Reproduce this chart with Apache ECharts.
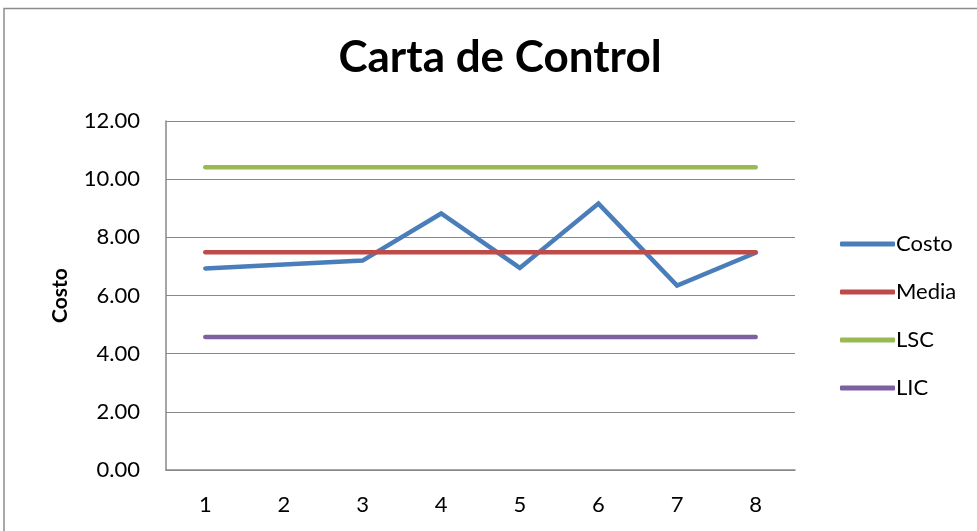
<!DOCTYPE html>
<html>
<head>
<meta charset="utf-8">
<script src="https://cdn.jsdelivr.net/npm/echarts@6/dist/echarts.min.js"></script>
<style>html,body{margin:0;padding:0;background:#fff;}#c{width:977px;height:531px;}</style>
</head>
<body>
<div id="c"></div>
<script>
var categories = ['1','2','3','4','5','6','7','8'];
var costo = [6.93, 7.07, 7.20, 8.82, 6.95, 9.16, 6.34, 7.47];
var media = [7.49, 7.49, 7.49, 7.49, 7.49, 7.49, 7.49, 7.49];
var lsc = [10.41, 10.41, 10.41, 10.41, 10.41, 10.41, 10.41, 10.41];
var lic = [4.57, 4.57, 4.57, 4.57, 4.57, 4.57, 4.57, 4.57];
var seriesNames = ['Costo', 'Media', 'LSC', 'LIC'];
var colors = ['#4A7EBB', '#BE4B48', '#98B954', '#7D60A0'];
var yTicks = {min: 0, max: 12, interval: 2};

var font = 'Lato, "Open Sans", sans-serif';
var chart = echarts.init(document.getElementById('c'));
function mk(name, data, color) {
  return {
    name: name, type: 'line', data: data, symbol: 'none',
    color: color,
    lineStyle: {width: 4.5, color: color, cap: 'round', join: 'miter'},
    animation: false
  };
}
chart.setOption({
  animation: false,
  backgroundColor: '#fff',
  graphic: [{
    type: 'rect', shape: {x: 4, y: 8.5, width: 1000, height: 600},
    style: {fill: 'none', stroke: '#8c8c8c', lineWidth: 1.5}, silent: true
  }],
  title: {
    text: 'Carta de Control', left: 495, top: 31, textAlign: 'center',
    textStyle: {fontFamily: font, fontWeight: 'bold', fontSize: 44, color: '#000'}
  },
  legend: {
    orient: 'vertical', left: 835, top: 228,
    itemWidth: 55, itemHeight: 5, itemGap: 26,
    icon: 'roundRect',
    data: seriesNames,
    textStyle: {fontFamily: font, fontSize: 22, color: '#000', padding: [0,0,0,-4]}
  },
  grid: {left: 166, right: 182, top: 121, bottom: 61, containLabel: false},
  xAxis: {
    type: 'category', data: categories, boundaryGap: true,
    axisLine: {lineStyle: {color: '#888', width: 1.5}},
    axisTick: {show: false},
    axisLabel: {fontFamily: font, fontSize: 22, color: '#000', margin: 24}
  },
  yAxis: {
    type: 'value', min: yTicks.min, max: yTicks.max, interval: yTicks.interval,
    name: 'Costo', nameLocation: 'middle', nameGap: 95,
    nameTextStyle: {fontFamily: font, fontWeight: 'bold', fontSize: 21, color: '#000'},
    axisLine: {show: true, lineStyle: {color: '#888', width: 1.5}},
    axisTick: {show: false},
    splitLine: {lineStyle: {color: '#888', width: 1.2}},
    axisLabel: {fontFamily: font, fontSize: 22, color: '#000', margin: 26,
      formatter: function (v) { return v.toFixed(2); }}
  },
  series: [
    mk(seriesNames[0], costo, colors[0]),
    mk(seriesNames[1], media, colors[1]),
    mk(seriesNames[2], lsc, colors[2]),
    mk(seriesNames[3], lic, colors[3])
  ]
});
</script>
</body>
</html>
